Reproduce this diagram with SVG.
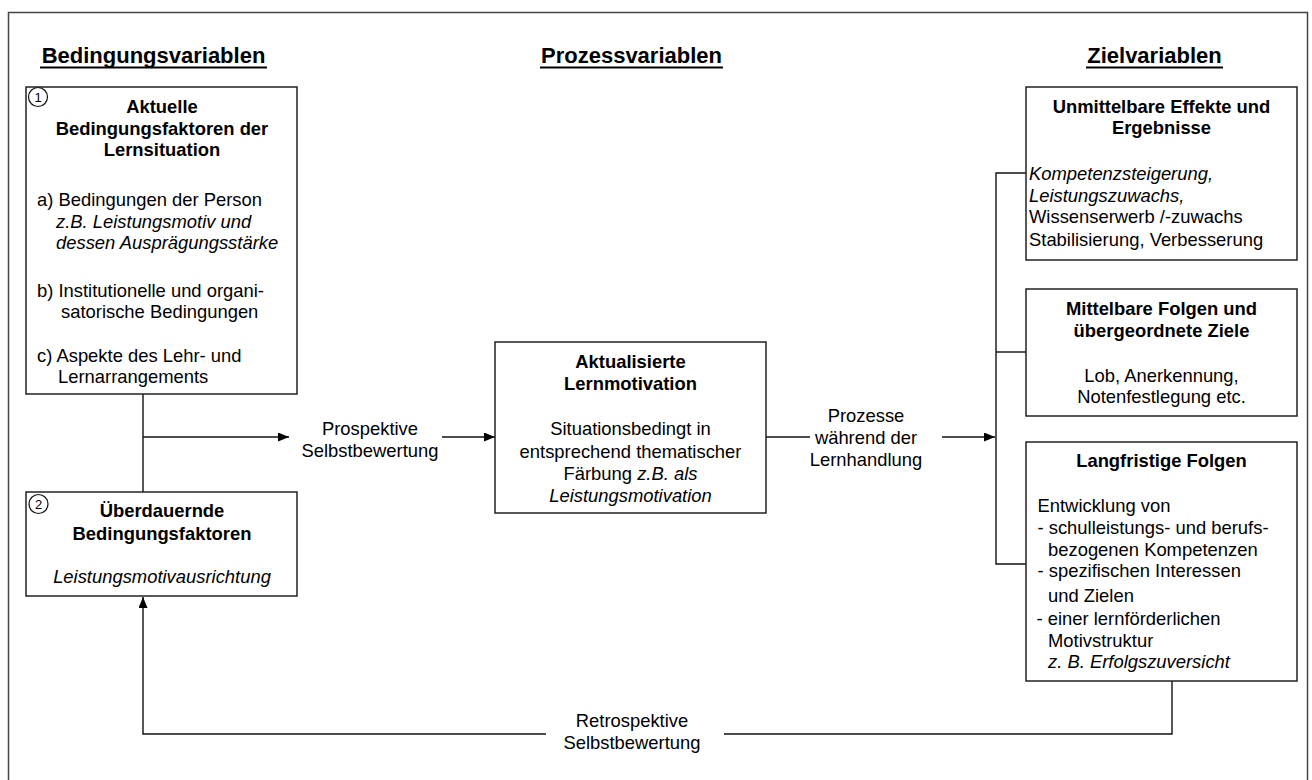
<svg xmlns="http://www.w3.org/2000/svg" width="1312" height="780" viewBox="0 0 1312 780">
<defs>
<marker id="ah" markerWidth="12" markerHeight="9" refX="11" refY="4.5" orient="auto" markerUnits="userSpaceOnUse">
<path d="M0,0 L11,4.5 L0,9 Z" fill="#000"/>
</marker>
<style>
text{font-family:"Liberation Sans",Arial,sans-serif;font-size:18.4px;fill:#000}
.h{font-size:22px;font-weight:bold}
.b{font-weight:bold}
.i{font-style:italic}
.c{text-anchor:middle}
.n{font-size:13px;text-anchor:middle}
.box{fill:#fff;stroke:#222;stroke-width:1.5}
.ln{fill:none;stroke:#111;stroke-width:1.4}
.ul{stroke:#000;stroke-width:2}
</style>
</defs>
<rect width="1312" height="780" fill="#fff"/>
<rect x="8.5" y="12.5" width="1299" height="800" fill="none" stroke="#444" stroke-width="1.5"/>

<g id="headings">
<text class="h c" x="153.5" y="63">Bedingungsvariablen</text>
<line class="ul" x1="40" y1="67.5" x2="267" y2="67.5"/>
<text class="h c" x="631.5" y="63">Prozessvariablen</text>
<line class="ul" x1="540" y1="67.5" x2="723" y2="67.5"/>
<text class="h c" x="1154.5" y="63">Zielvariablen</text>
<line class="ul" x1="1086" y1="67.5" x2="1223" y2="67.5"/>
</g>

<g id="connectors">
<line class="ln" x1="143" y1="394" x2="143" y2="492"/>
<line class="ln" x1="143" y1="437" x2="289" y2="437" marker-end="url(#ah)"/>
<line class="ln" x1="442" y1="437" x2="495" y2="437" marker-end="url(#ah)"/>
<line class="ln" x1="766" y1="437" x2="810" y2="437"/>
<line class="ln" x1="942" y1="437" x2="995" y2="437" marker-end="url(#ah)"/>
<polyline class="ln" points="1026,173 996,173 996,564 1026,564"/>
<line class="ln" x1="996" y1="352" x2="1026" y2="352"/>
<polyline class="ln" points="1172,681 1172,734 724,734"/>
<polyline class="ln" points="546,734 143,734 143,597" marker-end="url(#ah)"/>
<text class="c" x="632" y="727">Retrospektive</text>
<text class="c" x="632" y="749">Selbstbewertung</text>
<text class="c" x="370" y="435">Prospektive</text>
<text class="c" x="370" y="457">Selbstbewertung</text>
<text class="c" x="866" y="422">Prozesse</text>
<text class="c" x="866" y="444">während der</text>
<text class="c" x="866" y="466">Lernhandlung</text>
</g>

<g id="node-aktuelle">
<rect class="box" x="26" y="87" width="271" height="307"/>
<circle cx="38" cy="97" r="9.5" fill="#fff" stroke="#111" stroke-width="1.2"/>
<text class="n" x="38" y="102">1</text>
<text class="b c" x="162" y="113">Aktuelle</text>
<text class="b c" x="162" y="135">Bedingungsfaktoren der</text>
<text class="b c" x="162" y="156">Lernsituation</text>
<text x="37" y="206">a) Bedingungen der Person</text>
<text class="i" x="56" y="228">z.B. Leistungsmotiv und</text>
<text class="i" x="56" y="249">dessen Ausprägungsstärke</text>
<text x="37" y="297">b) Institutionelle und organi-</text>
<text x="61" y="318">satorische Bedingungen</text>
<text x="37" y="362">c) Aspekte des Lehr- und</text>
<text x="58" y="383">Lernarrangements</text>
</g>

<g id="node-ueberdauernde">
<rect class="box" x="26" y="492" width="271" height="104"/>
<circle cx="38.5" cy="504" r="9.5" fill="#fff" stroke="#111" stroke-width="1.2"/>
<text class="n" x="38.5" y="509">2</text>
<text class="b c" x="162" y="517">Überdauernde</text>
<text class="b c" x="162" y="540">Bedingungsfaktoren</text>
<text class="i c" x="162" y="583">Leistungsmotivausrichtung</text>
</g>

<g id="node-lernmotivation">
<rect class="box" x="495" y="342" width="271" height="171"/>
<text class="b c" x="630.5" y="368">Aktualisierte</text>
<text class="b c" x="630.5" y="390">Lernmotivation</text>
<text class="c" x="630.5" y="435">Situationsbedingt in</text>
<text class="c" x="630.5" y="457.5">entsprechend thematischer</text>
<text class="c" x="630.5" y="480">Färbung <tspan class="i">z.B. als</tspan></text>
<text class="i c" x="630.5" y="501.5">Leistungsmotivation</text>
</g>

<g id="node-unmittelbare">
<rect class="box" x="1026" y="87" width="271" height="173"/>
<text class="b c" x="1161.5" y="113">Unmittelbare Effekte und</text>
<text class="b c" x="1161.5" y="134">Ergebnisse</text>
<text class="i" x="1029" y="180">Kompetenzsteigerung,</text>
<text class="i" x="1029" y="201.5">Leistungszuwachs,</text>
<text x="1029" y="223">Wissenserwerb /-zuwachs</text>
<text x="1029" y="245.5">Stabilisierung, Verbesserung</text>
</g>

<g id="node-mittelbare">
<rect class="box" x="1026" y="289" width="271" height="127"/>
<text class="b c" x="1161.5" y="315">Mittelbare Folgen und</text>
<text class="b c" x="1161.5" y="336.5">übergeordnete Ziele</text>
<text class="c" x="1161.5" y="381.5">Lob, Anerkennung,</text>
<text class="c" x="1161.5" y="403">Notenfestlegung etc.</text>
</g>

<g id="node-langfristige">
<rect class="box" x="1026" y="442" width="271" height="239"/>
<text class="b c" x="1161.5" y="466.5">Langfristige Folgen</text>
<text x="1037.5" y="511.5">Entwicklung von</text>
<text x="1037.5" y="533.5">- schulleistungs- und berufs-</text>
<text x="1048" y="555.5">bezogenen Kompetenzen</text>
<text x="1037.5" y="577">- spezifischen Interessen</text>
<text x="1048" y="602">und Zielen</text>
<text x="1036.5" y="625">- einer lernförderlichen</text>
<text x="1048" y="646.5">Motivstruktur</text>
<text class="i" x="1048" y="668">z. B. Erfolgszuversicht</text>
</g>
</svg>
